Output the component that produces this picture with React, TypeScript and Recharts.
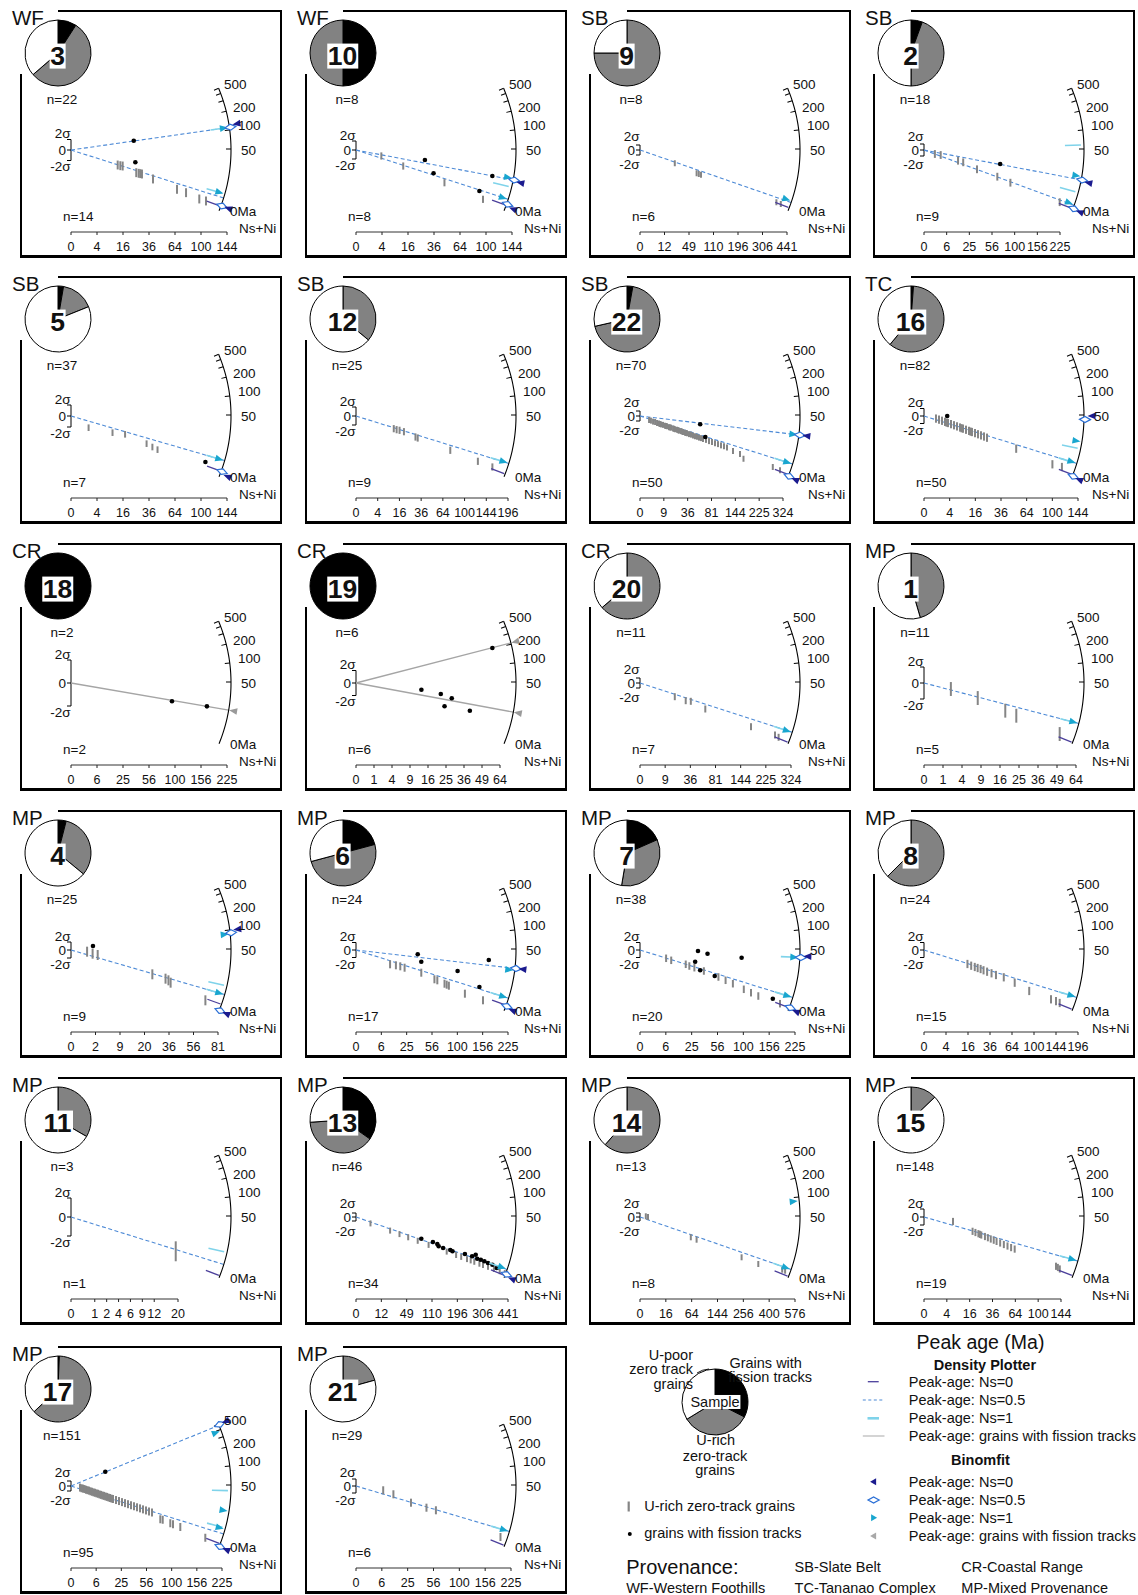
import React from 'react';
import { ComposedChart, XAxis, YAxis, Scatter, Line, ReferenceLine, ErrorBar, PieChart, Pie, Cell } from 'recharts';

const FONT = '"Liberation Sans", Arial, Helvetica, sans-serif';

// ---------------- data ----------------
const sampleIds = [3, 10, 9, 2, 5, 12, 22, 16, 18, 19, 20, 1, 4, 6, 7, 8, 11, 13, 14, 15, 17, 21];
const provenance = ['WF', 'WF', 'SB', 'SB', 'SB', 'SB', 'SB', 'TC', 'CR', 'CR', 'CR', 'MP', 'MP', 'MP', 'MP', 'MP', 'MP', 'MP', 'MP', 'MP', 'MP', 'MP'];
const grainTotals = [22, 8, 8, 18, 37, 25, 70, 82, 2, 6, 11, 11, 25, 24, 38, 24, 3, 46, 13, 148, 151, 29];
const ftCounts = [2, 4, 0, 1, 1, 0, 2, 1, 2, 6, 0, 0, 1, 5, 7, 0, 0, 16, 0, 0, 1, 0];
const uRichCounts = [12, 4, 6, 8, 6, 9, 48, 49, 0, 0, 7, 5, 8, 12, 13, 15, 1, 18, 8, 19, 94, 6];

const T144 = [0, 4, 16, 36, 64, 100, 144];
const T196 = [0, 4, 16, 36, 64, 100, 144, 196];
const T225 = [0, 6.25, 25, 56.25, 100, 156.25, 225];
const T324 = [0, 9, 36, 81, 144, 225, 324];
const T441 = [0, 12.25, 49, 110.25, 196, 306.25, 441];
const T64 = [0, 1, 4, 9, 16, 25, 36, 49, 64];
const T81 = [0, 2.25, 9, 20.25, 36, 56.25, 81];
const T576 = [0, 16, 64, 144, 256, 400, 576];
const T20 = [0, 1, 2.25, 4, 6.25, 9, 12.25, 20.25];
const xTicks = [T144, T144, T441, T225, T144, T196, T324, T144, T225, T64, T324, T64, T81, T225, T225, T196, T20, T441, T576, T144, T225, T225];

// U-rich zero-track grains: [Ns+Ni, standardised estimate (sigma)]
const uRichGrains: number[][][] = [
  [[12.9, -2.86], [14.4, -2.99], [15.8, -3.05], [25.2, -4.32], [27.1, -4.44], [28.4, -4.5], [29.8, -4.57], [39.8, -5.52], [66.5, -7.49], [78.3, -8.13], [97.4, -9.33], [107.8, -9.71]],
  [[3.8, -1.33], [13.2, -3.56], [46.3, -7.27], [95.4, -10.96]],
  [[24.7, -5.3], [65.4, -9.3], [70.6, -9.6], [75.9, -9.9], [379.7, -20.9], [404.6, -21.6]],
  [[1.44, -1.33], [3.39, -1.67], [14.1, -3.57], [18.7, -4.1], [34.2, -6.43], [65.4, -8.9], [90.8, -10.9], [224, -17.4]],
  [[1.83, -2.13], [10.2, -3.03], [17.3, -3.33], [33.8, -5.03], [39.2, -5.64], [44.3, -6.12]],
  [[12.1, -2.82], [14, -3.04], [16.1, -3.18], [19.5, -3.49], [30, -4.67], [32.3, -4.89], [75.4, -7.62], [126, -10.07], [157.8, -11.33]],
  [[1.3, -1.6], [1.9, -1.85], [2.7, -2.25], [3.6, -2.4], [4.6, -2.8], [5.7, -3.0], [6.3, -3.2], [7.0, -3.35], [8.4, -3.55], [9.9, -3.9], [10.7, -4.0], [11.6, -4.1], [13.3, -4.5], [14.2, -4.55], [15.2, -4.65], [17.3, -5.0], [18.3, -5.1], [19.4, -5.3], [21.7, -5.5], [23, -5.7], [24.1, -5.85], [26.6, -6.05], [27.9, -6.2], [29.3, -6.4], [32.1, -6.7], [33.5, -6.8], [35, -6.9], [38, -7.25], [41.2, -7.45], [44.5, -7.8], [47.9, -8.1], [51.5, -8.3], [55.2, -8.65], [59, -8.85], [62.9, -9.2], [69, -9.55], [75.4, -10.05], [82.1, -10.4], [89.1, -10.9], [96.4, -11.25], [104, -11.75], [111.8, -12.1], [119.9, -12.6], [137, -14], [158.4, -15.2], [169.7, -17.1], [279.4, -20.4], [310.5, -21.7]],
  [[0.87, -0.69], [1.37, -0.97], [1.97, -1.27], [2.68, -1.57], [3.07, -1.76], [3.5, -1.87], [4.43, -2.17], [5.46, -2.47], [6.61, -2.77], [7.87, -3.07], [8.54, -3.26], [9.24, -3.37], [10.71, -3.67], [12.3, -3.97], [13.13, -4.16], [13.99, -4.27], [15.79, -4.57], [17.71, -4.87], [19.73, -5.17], [21.86, -5.47], [24.1, -5.79], [51.6, -8.72], [100.1, -12.88], [115.5, -13.6]],
  [],
  [],
  [[17.2, -5.48], [29.7, -7.08], [36.7, -7.32], [60.6, -10.4], [175, -17.48], [259, -20.8], [273, -21.72]],
  [[2.0, -0.75], [8.0, -1.88], [18.3, -3.46], [23.6, -4.09], [51, -6.38]],
  [[0.97, -0.42], [1.75, -0.92], [2.67, -1.25], [24.8, -6.08], [33.5, -7.17], [35.6, -7.58], [37.2, -8.17], [67.7, -12.58]],
  [[11.3, -3.81], [15.5, -4.08], [19.1, -4.35], [23, -4.72], [41.5, -6.05], [59.9, -7.81], [64.4, -8.08], [76.3, -8.99], [80.1, -9.25], [84, -9.52], [115.5, -11.65], [157.1, -13.41]],
  [[6.38, -2.21], [9.12, -2.75], [19.6, -3.81], [22.8, -4.27], [27.7, -4.72], [38.2, -5.6], [57.6, -7.2], [68.6, -8.08], [80.8, -8.99], [100.9, -10.48], [115.4, -11.39], [131.1, -12.27], [183.6, -14.32]],
  [[15.6, -3.73], [18.4, -4.19], [21.3, -4.53], [23.8, -4.8], [26.5, -5.07], [29.3, -5.41], [32.9, -5.79], [37.7, -6.21], [42.8, -6.67], [52.6, -7.28], [68, -8.72], [91.5, -10.93], [133.3, -13.15], [144, -13.6], [152.2, -14.13]],
  [[19.4, -3.61]],
  [[4.0, -3.2], [22.2, -6.8], [36.1, -8.55], [52, -10.15], [72.7, -11.9], [100.6, -13.95], [157, -17.3], [191.3, -19], [211.2, -19.95], [235.2, -21.05], [251.1, -21.7], [267.1, -22.4], [290.7, -23.35], [307.9, -24], [332.6, -24.9], [363, -26], [394.2, -27.1], [422.6, -28.05]],
  [[0.81, 0.35], [1.53, 0], [61.9, -10.15], [76.8, -11.35], [247.5, -20.15], [335.5, -23.5], [484.8, -26.35], [504.8, -26.85]],
  [[6.45, -1.12], [18.1, -3.58], [20.3, -3.88], [22.7, -4.18], [24, -4.35], [25.2, -4.5], [28.5, -4.88], [31.3, -5.18], [34.2, -5.5], [37.3, -5.8], [40.4, -6.1], [44.5, -6.5], [48.9, -6.88], [53.5, -7.25], [58.2, -7.65], [63.1, -8.02], [133.7, -12.32], [137.5, -12.62], [141.5, -13]],
  [[0.8, -0.64], [1.09, -0.9], [1.42, -1.05], [1.8, -1.22], [2.22, -1.5], [2.69, -1.68], [3.2, -1.85], [3.75, -2.12], [4.35, -2.3], [5.0, -2.55], [5.68, -2.7], [6.42, -2.95], [7.19, -3.1], [8.02, -3.38], [8.88, -3.55], [9.79, -3.8], [10.75, -3.95], [11.75, -4.2], [12.79, -4.36], [13.88, -4.62], [15.01, -4.8], [16.19, -5.05], [17.41, -5.2], [19.98, -5.62], [22.74, -6.02], [25.67, -6.45], [28.78, -6.86], [32.06, -7.28], [35.52, -7.7], [39.17, -8.1], [42.99, -8.52], [46.98, -8.95], [51.16, -9.35], [55.51, -9.78], [60.04, -10.2], [64.74, -10.6], [78.7, -13.3], [83, -13.5], [97.3, -14.9], [102.7, -15.3], [117.9, -16.4], [178, -20.7]],
  [[6.93, -1.23], [13.1, -2.37], [28.3, -4.77], [46.5, -6.2], [59.8, -6.94], [195.5, -14.57]],
];
// half-range (sigma) of the Ns = 0..1 bar of a zero-track grain
const uRichSpread = [0.85, 0.8, 1.2, 1.3, 0.6, 0.8, 1.2, 1.1, 0, 0, 1.4, 0.87, 1.25, 1.07, 1.0, 1.1, 1.05, 1.5, 1.5, 0.9, 1.6, 1.15];

// grains with fission tracks: [Ns+Ni, standardised estimate]
const ftGrains: number[][][] = [
  [[23.3, 1.77], [24.5, -2.34]],
  [[28.1, -2.22], [35.6, -5.18], [110, -5.78], [90.1, -9.11]],
  [],
  [[70.6, -4.67]],
  [[106.9, -8.36]],
  [],
  [[57.4, -3.32], [67.6, -8.4]],
  [[3.27, 0]],
  [[94.3, -1.59], [170.8, -2.03]],
  [[13.2, -1.07], [22.2, -1.76], [28.3, -2.45], [24.2, -3.73], [40, -4.43], [57.4, 5.6]],
  [],
  [],
  [[1.81, 1]],
  [[37.1, -1.15], [41.5, -3.12], [100.5, -5.6], [148.3, -9.87], [171.7, -2.67]],
  [[31.5, -0.27], [28.5, -3.12], [42.7, -0.99], [96.7, -2.05], [33.9, -5.41], [52.3, -6.93], [165.2, -12.99]],
  [],
  [],
  [[81.4, -10.85], [112.9, -12.5], [126.2, -13.5], [130.5, -14.65], [144.8, -15.5], [169.7, -16.5], [177.8, -17.15], [226.4, -18.5], [257.3, -19.65], [273.5, -18.85], [280.4, -20.85], [297.3, -21.35], [314.7, -22.15], [332.6, -23], [355.1, -23.85], [378.4, -25.5]],
  [],
  [],
  [[11.6, 5.73]],
  [],
];

// peak ages (Ma)
const dpHalfPeaks = [[110, 4], [13.5, 3.5], [2.4], [13.5, 1.5], [5.4], [4.2], [22.5, 4], [4.2], [], [], [3.5], [7.3], [5.4], [23, 3.9], [4.2], [4.2], [4.2], [2.4], [2.4], [5.6], [480, 4], [5]];
const dpZeroPeaks = [[1.2], [1.5], [0.8], [0.5], [1.5], [0.7], [0.5], [0.5], [], [], [0.3], [0.3], [1.8], [1.5], [0.8], [0.3], [0.5], [0.6], [0.3], [0.5], [0.8], [0.3]];
const dpOnePeaks = [[110, 5.7], [9], [], [58, 6.3], [5.4], [4.3], [4], [11.5, 4.2], [], [], [3.5], [7.3], [9.7, 5.4], [3.9], [36, 4.2], [4.3], [10], [2.5], [2.4], [5.7], [40, 6.5], [5]];
const dpFtPeaks = [[], [], [], [], [], [], [], [], [15.5], [210, 14], [], [], [], [], [], [], [], [], [], [], [], []];
const bfZeroPeaks = [[120, 1.4], [12.5, 1.2], [], [12.5, 0.4], [0.8], [], [22.5, 0], [48, 0], [], [], [], [], [99, 0], [23, 0.8], [38, 0.5], [], [], [0.4], [], [], [500, 0], []];
const bfHalfPeaks = [[110, 1.4], [13.5, 1.9], [], [13.5, 0.6], [1.5], [], [22.5, 0.2], [42, 0.2], [], [], [], [], [90, 0.1], [23, 1.3], [36, 0.9], [], [], [1], [], [], [490, 0.1], []];
const bfOnePeaks = [[110, 5.7], [14.5, 3.5], [2.9], [16, 1.7], [5.4], [4.3], [22.5, 4], [16.5, 4.3], [], [], [3.5], [7.3], [87, 5.4], [21, 3.9], [36, 4.2], [4.3], [], [2.5], [87, 2.4], [5.7], [380, 17, 6], [5]];
const bfFtPeaks = [[], [], [], [], [], [], [], [], [15.5], [210, 14], [], [], [], [], [], [], [], [], [], [], [], []];

const arcTickAges = [50, 100, 200, 300, 400, 500];
const arcLabels = ['500', '200', '100', '50', '0Ma'];
const legendPieShares = [117, 121.5, 121.5];

// ---------------- layout ----------------
const COL_X = [20, 305, 589, 873];
const ROW_Y = [10, 276, 543, 810, 1077, 1346];
const axisLenPx = [156, 156, 147, 136, 156, 152, 143, 154, 156, 144, 151, 152, 147, 152, 155, 154, 107, 152, 155, 137, 151, 155];
const sigmaBracketPx = [10.5, 9, 5, 6, 11, 9, 5, 7.5, 23, 12.5, 5, 16, 8, 7.5, 7.5, 7.5, 19, 4, 4, 8, 5, 7];
const arcLabelPos = [[204, 75], [213, 98], [218, 116], [221, 141], [210, 202]];
const R = 160, PW = 182, YW = 50, UP = 76, DOWN = 82, XH = 26;

const C_DASH = '#4d8ad6', C_NAVY = '#1b1b8f', C_DIAMOND = '#2a6fd6', C_CYAN = '#19a6cf';
const C_DP0 = '#4b3f9b', C_DP1 = '#7fd3ea', C_FTLINE = '#a5a5a5', C_FTTRI = '#9a9a9a', C_BAR = '#858585', PIE_GRAY = '#828282';

const ageAngle = (t: number) => Math.atan(0.1867 * Math.log(1 + t / 6) - 0.41);

const rot = (p: any) => `translate(${p.cx},${p.cy}) rotate(${(-(p.payload?.a ?? 0) * 180) / Math.PI})`;
const triOut = (fill: string) => (p: any) => <polygon transform={rot(p)} points="4.5,0 -3.5,-3.4 -3.5,3.4" fill={fill} />;
const triIn = (fill: string) => (p: any) => <polygon transform={rot(p)} points="-4.5,0 3.5,-3.4 3.5,3.4" fill={fill} />;
const diamondShape = (p: any) => <polygon transform={rot(p)} points="5.5,0 0,-3 -5.5,0 0,3" fill="#fff" stroke={C_DIAMOND} strokeWidth={1.2} />;
const stub = (color: string, len: number, w: number) => (p: any) => <line transform={rot(p)} x1={0} y1={0} x2={-len} y2={0} stroke={color} strokeWidth={w} />;
const noShape = () => <g />;
const dotShape = (p: any) => <circle cx={p.cx} cy={p.cy} r={2.3} fill="#000" />;

function SigmaTick({ y, payload, off }: any) {
  const v = payload.value;
  const label = v > 0 ? '2σ' : v < 0 ? '-2σ' : '0';
  const yy = y + (v > 0 ? -off : v < 0 ? off : 0);
  const xx = v === 0 ? YW - 5 : YW - 0.5;
  return <text x={xx} y={yy} dy="0.35em" textAnchor="end" fontSize={13.5} fill="#111">{label}</text>;
}

function RadialPlot({ i }: { i: number }) {
  const ticks = xTicks[i];
  const xmax = ticks[ticks.length - 1];
  const aL = axisLenPx[i];
  const b = sigmaBracketPx[i];
  const sig = b / 2;
  const toX = (d: number) => xmax * Math.pow(Math.max(d, 0) / aL, 2);
  const polar = (r: number, t: number) => {
    const a = ageAngle(t);
    return { x: toX(r * Math.cos(a)), y: (r * Math.sin(a)) / sig, a };
  };
  const a0 = ageAngle(0), a1 = ageAngle(500);
  const arc = Array.from({ length: 61 }, (_, k) => {
    const a = a0 + ((a1 - a0) * k) / 60;
    return { x: toX(R * Math.cos(a)), y: (R * Math.sin(a)) / sig };
  });
  const xDom = [0, xmax * Math.pow(PW / aL, 2)];
  const yDom = [-DOWN / sig, UP / sig];
  const bars = uRichGrains[i].map(([n, z]) => ({ x: n, y: z, e: uRichSpread[i] }));
  const dots = ftGrains[i].map(([n, z]) => ({ x: n, y: z }));
  const ring = (ages: number[], r: number) => ages.map((t) => polar(r, t));
  const lblOff = Math.max(6, 14 - b);
  return (
    <ComposedChart width={YW + PW} height={UP + DOWN + XH} margin={{ top: 0, right: 0, bottom: 0, left: 0 }}>
      <XAxis type="number" dataKey="x" scale="sqrt" domain={xDom} allowDataOverflow ticks={ticks} interval={0}
        tickFormatter={(v: number) => String(Math.round(v))} axisLine={false} tickLine={{ stroke: '#222' }}
        tickSize={3} tickMargin={7} tick={{ fontSize: 12.5, fill: '#111' }} height={XH} />
      <YAxis type="number" dataKey="y" domain={yDom} allowDataOverflow ticks={[-2, 0, 2]} interval={0} width={YW}
        axisLine={false} tickLine={{ stroke: '#000' }} tickSize={4}
        tick={(p: any) => <SigmaTick {...p} off={lblOff} />} />
      <ReferenceLine segment={[{ x: 0, y: yDom[0] }, { x: xmax, y: yDom[0] }]} stroke="#333" strokeWidth={1} ifOverflow="visible" />
      <ReferenceLine segment={[{ x: 0, y: -2 }, { x: 0, y: 2 }]} stroke="#000" strokeWidth={1} ifOverflow="visible" />
      {dpFtPeaks[i].map((t, k) => (
        <ReferenceLine key={'g' + k} segment={[{ x: 0, y: 0 }, polar(R, t)]} stroke={C_FTLINE} strokeWidth={1.3} ifOverflow="visible" />
      ))}
      {dpHalfPeaks[i].map((t, k) => (
        <ReferenceLine key={'h' + k} segment={[{ x: 0, y: 0 }, polar(R, t)]} stroke={C_DASH} strokeWidth={1.1} strokeDasharray="4 2.5" ifOverflow="visible" />
      ))}
      <Line data={arc} dataKey="y" type="linear" stroke="#000" strokeWidth={1.1} dot={false} activeDot={false} isAnimationActive={false} />
      <Scatter data={ring(arcTickAges, R)} shape={stub('#000', 5, 1)} isAnimationActive={false} />
      {bars.length > 0 && (
        <Scatter data={bars} shape={noShape} isAnimationActive={false}>
          <ErrorBar dataKey="e" direction="y" width={0} stroke={C_BAR} strokeWidth={2} isAnimationActive={false} />
        </Scatter>
      )}
      <Scatter data={dots} shape={dotShape} isAnimationActive={false} />
      <Scatter data={ring(dpZeroPeaks[i], R - 1)} shape={stub(C_DP0, 14, 1.3)} isAnimationActive={false} />
      <Scatter data={ring(dpOnePeaks[i], R - 3)} shape={stub(C_DP1, 16, 1.6)} isAnimationActive={false} />
      <Scatter data={ring(bfOnePeaks[i], R - 6)} shape={triOut(C_CYAN)} isAnimationActive={false} />
      <Scatter data={ring(bfHalfPeaks[i], R + 1)} shape={diamondShape} isAnimationActive={false} />
      <Scatter data={ring(bfZeroPeaks[i], R + 8)} shape={triIn(C_NAVY)} isAnimationActive={false} />
      <Scatter data={ring(bfFtPeaks[i], R + 5)} shape={triIn(C_FTTRI)} isAnimationActive={false} />
    </ComposedChart>
  );
}

function SamplePie({ data, r }: { data: { v: number; c: string }[]; r: number }) {
  return (
    <PieChart width={2 * r + 4} height={2 * r + 4} margin={{ top: 0, right: 0, bottom: 0, left: 0 }}>
      <Pie data={data} dataKey="v" cx={r + 2} cy={r + 2} innerRadius={0} outerRadius={r} startAngle={90} endAngle={-270}
        stroke="#000" strokeWidth={1} isAnimationActive={false}>
        {data.map((d, k) => <Cell key={k} fill={d.c} />)}
      </Pie>
    </PieChart>
  );
}

function Txt({ x, y, s, children, anchor = 'start', weight = 400, bg, pad }: any) {
  const tx = anchor === 'middle' ? '-50%' : anchor === 'end' ? '-100%' : '0';
  return (
    <div style={{ position: 'absolute', left: x, top: y, transform: `translate(${tx}, -50%)`, fontSize: s, lineHeight: pad ? 0.9 : 1,
      whiteSpace: 'nowrap', fontWeight: weight, background: bg, padding: pad ? '1px 1px 0 1px' : 0 }}>{children}</div>
  );
}

function Panel({ i }: { i: number }) {
  const L = COL_X[i % 4], T = ROW_Y[Math.floor(i / 4)];
  const plotted = ftCounts[i] + uRichCounts[i];
  const pieData = [
    { v: ftCounts[i], c: '#000' },
    { v: uRichCounts[i], c: PIE_GRAY },
    { v: grainTotals[i] - plotted, c: '#fff' },
  ].filter((d) => d.v > 0);
  const line = (l: number, t: number, w: number, h: number) => (
    <div style={{ position: 'absolute', left: l, top: t, width: w, height: h, background: '#000' }} />
  );
  return (
    <>
      {line(L + 38, T, 262 - 38, 2)}
      {line(L, T + 64, 2, 247 - 64)}
      {line(L + 260, T, 2.2, 247)}
      {line(L, T + 245, 262.2, 2.6)}
      <div style={{ position: 'absolute', left: L + 0.7, top: T + 140 - UP }}>
        <RadialPlot i={i} />
      </div>
      <div style={{ position: 'absolute', left: L + 38 - 35, top: T + 43 - 35 }}>
        <SamplePie data={pieData} r={33} />
      </div>
      <Txt x={L + 37.5} y={T + 46.3} s={26.5} anchor="middle" weight={700} bg="#fff" pad>{sampleIds[i]}</Txt>
      <Txt x={L - 8} y={T + 7.5} s={20.5}>{provenance[i]}</Txt>
      <Txt x={L + 42} y={T + 90} s={13.5} anchor="middle">n={grainTotals[i]}</Txt>
      <Txt x={L + 43} y={T + 207} s={13.5}>n={plotted}</Txt>
      {arcLabels.map((lb, k) => (
        <Txt key={k} x={L + arcLabelPos[k][0]} y={T + arcLabelPos[k][1]} s={13.5}>{lb}</Txt>
      ))}
      <Txt x={L + 219} y={T + 219} s={13.5}>Ns+Ni</Txt>
    </>
  );
}

function Legend() {
  const lp = [
    { v: legendPieShares[0], c: '#000' },
    { v: legendPieShares[1], c: PIE_GRAY },
    { v: legendPieShares[2], c: '#fff' },
  ];
  const fs = 14.5;
  const dpY = [1381.7, 1400, 1418.3, 1436];
  const bfY = [1481.7, 1500, 1517.7, 1536];
  const dpText = ['Peak-age: Ns=0', 'Peak-age: Ns=0.5', 'Peak-age: Ns=1', 'Peak-age: grains with fission tracks'];
  const sx = 873.6;
  return (
    <>
      <div style={{ position: 'absolute', left: 715 - 35, top: 1402 - 35 }}>
        <SamplePie data={lp} r={33} />
      </div>
      <svg style={{ position: 'absolute', left: 0, top: 0 }} width={1138} height={1595}>
        <path d="M 697 1373 Q 702 1369.5 709 1369" stroke="#000" strokeWidth={0.9} fill="none" />
        <line x1={628.7} y1={1501.5} x2={628.7} y2={1511.5} stroke={C_BAR} strokeWidth={2.2} />
        <circle cx={629.8} cy={1534} r={2} fill="#000" />
        <line x1={867.8} y1={dpY[0]} x2={878.7} y2={dpY[0]} stroke={C_DP0} strokeWidth={1.3} />
        <line x1={862.8} y1={dpY[1]} x2={884.5} y2={dpY[1]} stroke={C_DASH} strokeWidth={1.1} strokeDasharray="3 2.5" />
        <line x1={867.5} y1={dpY[2]} x2={879} y2={dpY[2]} stroke={C_DP1} strokeWidth={2.6} />
        <line x1={862.8} y1={dpY[3]} x2={884.5} y2={dpY[3]} stroke="#bdbdbd" strokeWidth={1.3} />
        <polygon transform={`translate(${sx},${bfY[0]})`} points="-3.5,0 2.5,-3.5 2.5,3.5" fill={C_NAVY} />
        <polygon transform={`translate(${sx},${bfY[1]})`} points="5.5,0 0,-3 -5.5,0 0,3" fill="#fff" stroke={C_DIAMOND} strokeWidth={1.3} />
        <polygon transform={`translate(${sx},${bfY[2]})`} points="3.5,0 -2.5,-3.5 -2.5,3.5" fill={C_CYAN} />
        <polygon transform={`translate(${sx},${bfY[3]})`} points="-3.5,0 2.5,-3.5 2.5,3.5" fill="#a8a8a8" />
      </svg>
      <Txt x={715} y={1401.7} s={fs} anchor="middle" bg="#fff" pad>Sample</Txt>
      <Txt x={693} y={1355} s={fs} anchor="end">U-poor</Txt>
      <Txt x={693} y={1369.3} s={fs} anchor="end">zero track</Txt>
      <Txt x={693} y={1384} s={fs} anchor="end">grains</Txt>
      <Txt x={729.4} y={1363.3} s={fs}>Grains with</Txt>
      <Txt x={728.3} y={1376.7} s={fs}>fission tracks</Txt>
      <Txt x={715.7} y={1440} s={fs} anchor="middle">U-rich</Txt>
      <Txt x={715} y={1455.7} s={fs} anchor="middle">zero-track</Txt>
      <Txt x={715} y={1470} s={fs} anchor="middle">grains</Txt>
      <Txt x={644.3} y={1506} s={fs}>U-rich zero-track grains</Txt>
      <Txt x={644.3} y={1532.7} s={fs}>grains with fission tracks</Txt>
      <Txt x={626.2} y={1567.3} s={20}>Provenance:</Txt>
      <Txt x={794.6} y={1567.3} s={fs}>SB-Slate Belt</Txt>
      <Txt x={961.3} y={1567.3} s={fs}>CR-Coastal Range</Txt>
      <Txt x={626.2} y={1588.3} s={fs}>WF-Western Foothills</Txt>
      <Txt x={794.6} y={1588.3} s={fs}>TC-Tananao Complex</Txt>
      <Txt x={961.3} y={1588.3} s={fs}>MP-Mixed Provenance</Txt>
      <Txt x={980.5} y={1343.3} s={19.5} anchor="middle">Peak age (Ma)</Txt>
      <Txt x={984.9} y={1365} s={fs} anchor="middle" weight={700}>Density Plotter</Txt>
      {dpText.map((t, k) => <Txt key={'d' + k} x={908.8} y={dpY[k]} s={fs}>{t}</Txt>)}
      <Txt x={980.5} y={1460} s={fs} anchor="middle" weight={700}>Binomfit</Txt>
      {dpText.map((t, k) => <Txt key={'b' + k} x={908.8} y={bfY[k]} s={fs}>{t}</Txt>)}
    </>
  );
}

export default function App() {
  return (
    <div style={{ position: 'absolute', left: 0, top: 0, width: 1138, height: 1595, background: '#fff', fontFamily: FONT, color: '#111', overflow: 'hidden' }}>
      {sampleIds.map((_, i) => <Panel key={i} i={i} />)}
      <Legend />
    </div>
  );
}
